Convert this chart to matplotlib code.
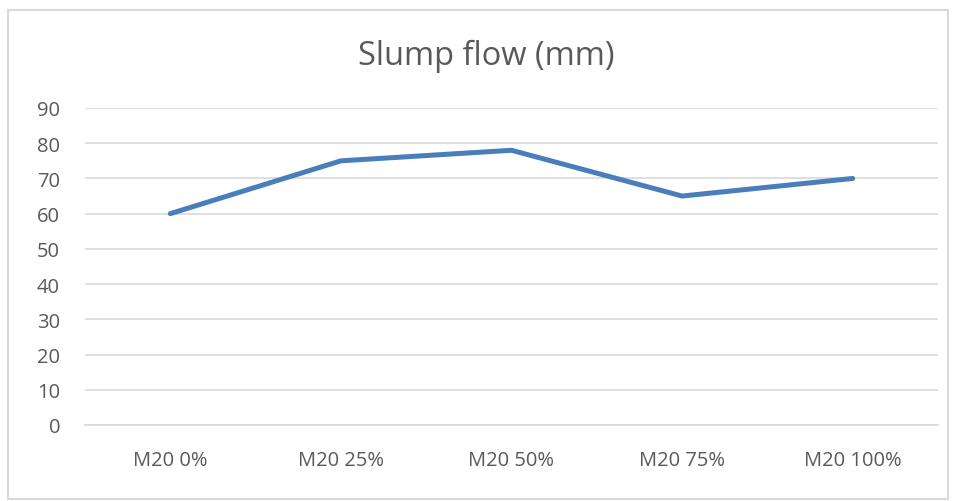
import matplotlib
matplotlib.use("Agg")
import matplotlib.pyplot as plt
from matplotlib.patches import Rectangle

plt.rcParams['font.family'] = ['Open Sans', 'DejaVu Sans']

categories = ["M20 0%", "M20 25%", "M20 50%", "M20 75%", "M20 100%"]
slump_flow = [60, 75, 78, 65, 70]
y_ticks = [0, 10, 20, 30, 40, 50, 60, 70, 80, 90]

W, H = 957, 502
fig = plt.figure(figsize=(W / 100, H / 100), dpi=100)
ax = fig.add_axes([85 / W, 1 - 426 / H, (938 - 85) / W, (426 - 109) / H])

x = list(range(len(categories)))
ax.plot(x, slump_flow, color='#4a7ebb', linewidth=3.6, solid_capstyle='round', solid_joinstyle='round', zorder=3)

ax.set_xlim(-0.5, len(categories) - 0.5)
ax.set_ylim(0, 90)
ax.set_yticks(y_ticks)
ax.set_xticks(x)
ax.set_xticklabels(categories)
ax.grid(axis='y', color='#d9d9d9', linewidth=1.2)
ax.set_axisbelow(True)
for s in ['top', 'right', 'left']:
    ax.spines[s].set_visible(False)
ax.spines['bottom'].set_color('#d9d9d9')
ax.spines['bottom'].set_linewidth(1.2)
ax.tick_params(axis='both', length=0, labelsize=14.5, labelcolor='#595959')
ax.tick_params(axis='x', pad=18)
ax.tick_params(axis='y', pad=18)

fig.text(486 / W, 1 - 56 / H, "Slump flow (mm)", ha='center', va='center', fontsize=23.5, color='#595959')

fig.patches.append(Rectangle((8 / W, 1 - 500 / H), (948 - 8) / W, (500 - 11) / H,
                             transform=fig.transFigure, fill=False, edgecolor='#d9d9d9', linewidth=1.5))

fig.savefig("out.png", dpi=100)
